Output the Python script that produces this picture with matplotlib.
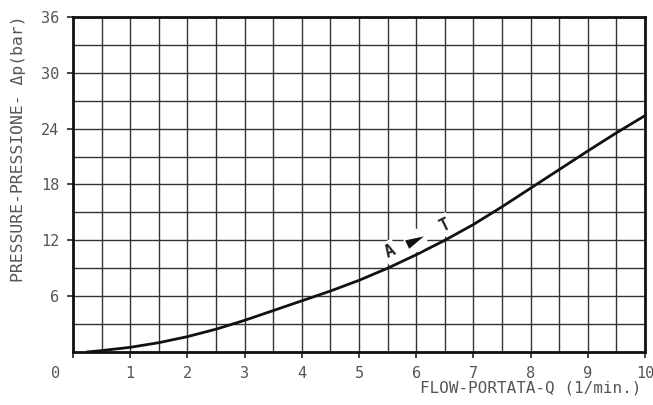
import matplotlib
matplotlib.use("Agg")
import matplotlib.pyplot as plt
import matplotlib.transforms as mtransforms
from matplotlib.path import Path
import numpy as np

flow = [0.25, 0.5, 1.0, 1.5, 2.0, 2.5, 3.0, 3.5, 4.0, 4.5, 5.0, 5.5, 6.0, 6.5, 7.0, 7.5, 8.0, 8.5, 9.0, 9.5, 10.0]
pressure = [0.0, 0.15, 0.5, 1.0, 1.65, 2.45, 3.4, 4.45, 5.5, 6.55, 7.7, 9.0, 10.45, 12.0, 13.7, 15.6, 17.6, 19.6, 21.6, 23.55, 25.4]
xticks = [0, 1, 2, 3, 4, 5, 6, 7, 8, 9, 10]
xticklabels = ["0", "1", "2", "3", "4", "5", "6", "7", "8", "9", "10"]
yticks = [6, 12, 18, 24, 30, 36]

label_A = (5.54, 10.8)
label_arrow = (5.98, 12.05)
label_T = (6.49, 13.65)
text_angle = 26

plt.rcParams['font.family'] = ['DejaVu Sans Mono', 'DejaVu Sans']
fig = plt.figure(figsize=(6.53, 4.05), dpi=100)
ax = fig.add_axes([0.1118, 0.1309, 0.8759, 0.8271])

ax.set_xlim(0, 10)
ax.set_ylim(0, 36)
ax.set_xticks(np.arange(0, 10.01, 0.5), minor=True)
ax.set_yticks(np.arange(0, 36.01, 3), minor=True)
ax.set_xticks(xticks)
ax.set_yticks(yticks)
ax.set_xticklabels(xticklabels)
ax.grid(which='both', color='#333333', linewidth=1.0)
ax.tick_params(which='minor', length=0)
ax.tick_params(which='major', length=4, width=1.2, colors='#222222', labelcolor='#555555', labelsize=11, pad=6)
for s in ax.spines.values():
    s.set_linewidth(2.0)
    s.set_color('#111111')

# the "0" label sits left of the corner in the original
lab0 = ax.get_xticklabels()[0]
lab0.set_transform(lab0.get_transform() + mtransforms.ScaledTranslation(-0.17, 0, fig.dpi_scale_trans))

ax.plot(flow, pressure, color='#111111', linewidth=2.0, zorder=3, clip_on=False, solid_joinstyle='round')

for pos, txt in [(label_A, "A"), (label_T, "T")]:
    ax.text(pos[0], pos[1], txt, rotation=text_angle, rotation_mode='anchor', ha='center', va='center',
            fontsize=12, color='#222222', fontweight='bold', zorder=4,
            bbox=dict(facecolor='white', edgecolor='none', pad=1.5))

th = np.deg2rad(text_angle)
tri = np.array([[-1.0, -0.5], [1.0, 0.0], [-1.0, 0.5], [-1.0, -0.5]])
rot = np.array([[np.cos(th), -np.sin(th)], [np.sin(th), np.cos(th)]])
tri_r = tri @ rot.T
ax.plot([label_arrow[0]], [label_arrow[1]], marker=Path(tri_r), markersize=15, color='#111111',
        markeredgewidth=0, linestyle='none', zorder=5)
ax.plot([label_arrow[0]], [label_arrow[1]], marker='o', markersize=17, color='white',
        markeredgewidth=0, linestyle='none', zorder=4)

fig.text(0.028, 0.632, "PRESSURE-PRESSIONE- \u0394p(bar)", rotation=90, ha='center', va='center',
         fontsize=11.8, color='#555555')
fig.text(0.982, 0.042, "FLOW-PORTATA-Q (1/min.)", ha='right', va='center', fontsize=11.5, color='#555555')

fig.savefig("out.png", dpi=100)
